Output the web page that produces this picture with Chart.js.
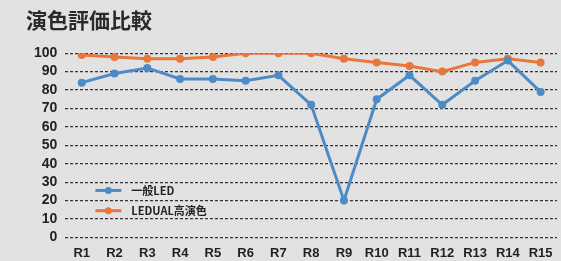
<!DOCTYPE html>
<html>
<head>
<meta charset="utf-8">
<script src="https://cdn.jsdelivr.net/npm/chart.js@4/dist/chart.umd.min.js"></script>
<style>
  html, body { margin: 0; padding: 0; background: #e2e2e2; }
  #wrap { width: 561px; height: 261px; position: relative; }
</style>
</head>
<body>
<div id="wrap"><canvas id="chart" width="561" height="261"></canvas></div>
<script>
// chart data
const categories = ['R1','R2','R3','R4','R5','R6','R7','R8','R9','R10','R11','R12','R13','R14','R15'];
const generalLed = [84, 89, 92, 86, 86, 85, 88, 72, 20, 75, 88, 72, 85, 96, 79];
const leddual = [99, 98, 97, 97, 98, 100, 100, 100, 97, 95, 93, 90, 95, 97, 95];
const yTicks = [0, 10, 20, 30, 40, 50, 60, 70, 80, 90, 100];
const seriesNames = ['一般LED', 'LEDUAL高演色'];

const blue = '#4c8bc6';
const orange = '#e8773c';

// legend drawn inside the plot, lower left
const insideLegend = {
    id: 'insideLegend',
    afterDraw(chart) {
        const ctx = chart.ctx;
        const y = chart.scales.y;
        const left = chart.chartArea.left;
        const rows = [25.5, 14.5];
        ctx.save();
        chart.data.datasets.forEach((ds, i) => {
            const py = y.getPixelForValue(rows[i]);
            ctx.strokeStyle = ds.borderColor;
            ctx.lineWidth = 3;
            ctx.beginPath();
            ctx.moveTo(left + 30, py);
            ctx.lineTo(left + 56, py);
            ctx.stroke();
            ctx.fillStyle = ds.borderColor;
            ctx.beginPath();
            ctx.arc(left + 43, py, 3.5, 0, Math.PI * 2);
            ctx.fill();
            ctx.fillStyle = '#222';
            ctx.font = 'bold 11px "Noto Sans CJK JP", sans-serif';
            ctx.textBaseline = 'middle';
            ctx.fillText(ds.label, left + 66, py);
        });
        ctx.restore();
    }
};

const ctx = document.getElementById('chart').getContext('2d');
new Chart(ctx, {
    type: 'line',
    data: {
        labels: categories,
        datasets: [{
            label: seriesNames[0],
            data: generalLed,
            borderColor: blue,
            backgroundColor: blue,
            borderWidth: 3,
            pointRadius: 4,
            pointBorderWidth: 0,
            tension: 0
        }, {
            label: seriesNames[1],
            data: leddual,
            borderColor: orange,
            backgroundColor: orange,
            borderWidth: 3,
            pointRadius: 4,
            pointBorderWidth: 0,
            tension: 0
        }]
    },
    options: {
        responsive: false,
        animation: false,
        layout: { padding: { left: 26, right: 3, top: 0, bottom: -8 } },
        plugins: {
            legend: { display: false },
            tooltip: { enabled: false },
            title: {
                display: true,
                text: '演色評価比較',
                align: 'start',
                color: '#2a2a2a',
                font: { family: '"Noto Sans CJK JP", sans-serif', size: 21, weight: 'bold' },
                padding: { top: 7, bottom: 21 }
            }
        },
        scales: {
            x: {
                offset: true,
                grid: { display: false, drawTicks: false },
                border: { display: false },
                ticks: {
                    color: '#222',
                    padding: 8,
                    maxRotation: 0,
                    autoSkip: false,
                    font: { family: '"Liberation Sans", sans-serif', size: 13, weight: 'bold' }
                }
            },
            y: {
                min: 0,
                max: 100,
                afterBuildTicks(axis) { axis.ticks = yTicks.map(v => ({ value: v })); },
                grid: { color: '#333333', lineWidth: 1.2, drawTicks: false },
                border: { display: false, dash: [3, 2] },
                ticks: {
                    color: '#222',
                    padding: 8,
                    autoSkip: false,
                    font: { family: '"Liberation Sans", sans-serif', size: 14, weight: 'bold' }
                }
            }
        }
    },
    plugins: [insideLegend]
});
</script>
</body>
</html>
